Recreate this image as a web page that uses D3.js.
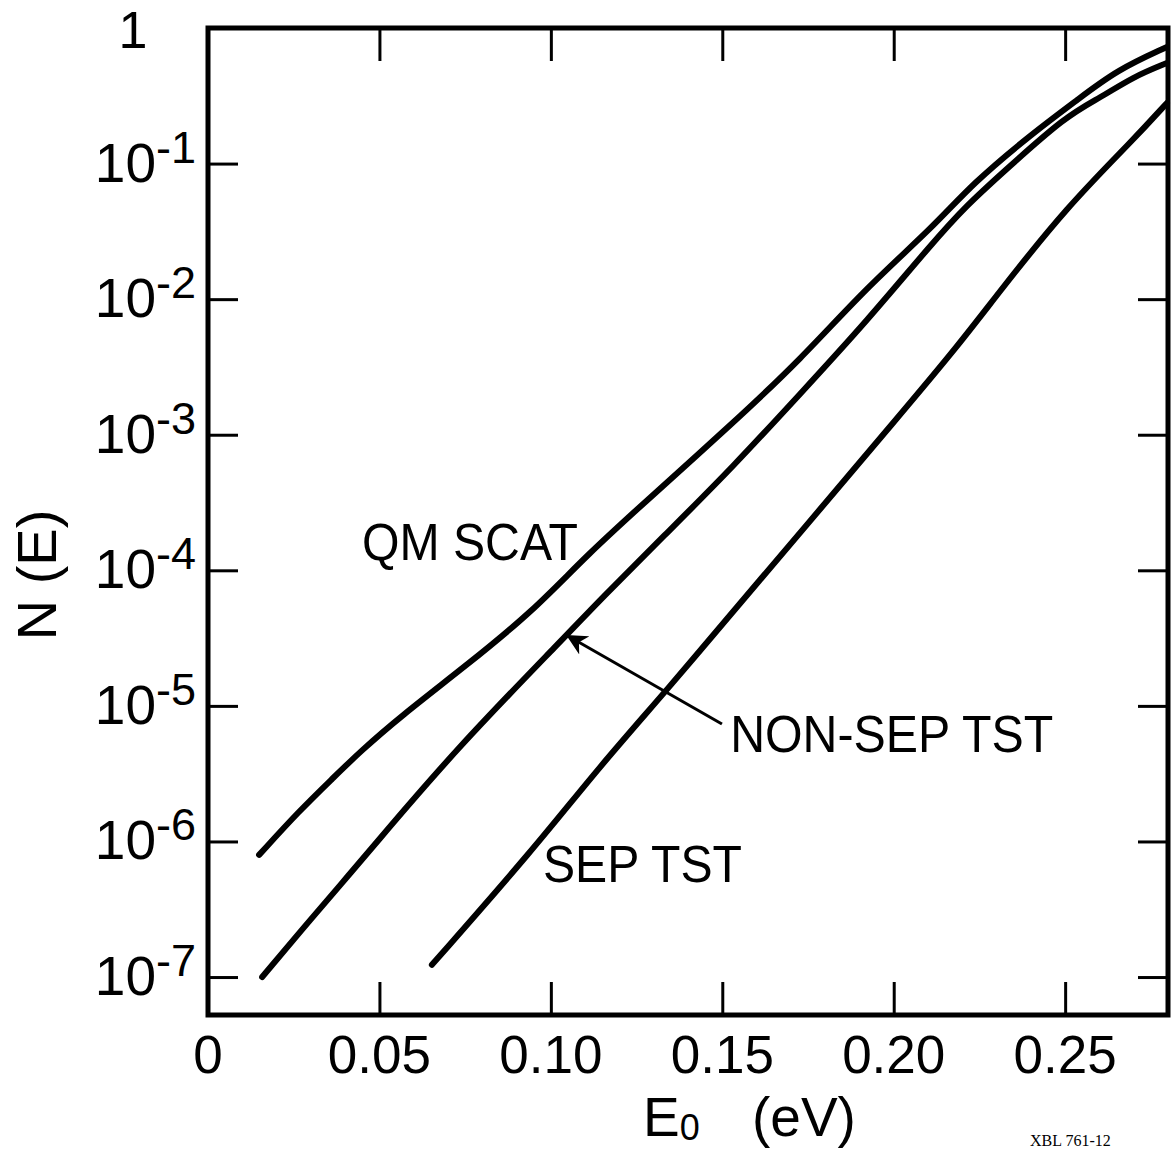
<!DOCTYPE html>
<html lang="en">
<head>
  <meta charset="utf-8">
  <title>N(E) vs E0</title>
  <script src="https://d3js.org/d3.v7.min.js"></script>
  <style>
    html, body { margin:0; padding:0; background:#fff; }
    svg { display:block; }
    text { font-family: "Liberation Sans", Arial, sans-serif; fill:#000; }
  </style>
</head>
<body>
<div id="chart"></div>
<script>
// ─── Data ───────────────────────────────────────────────────────────────────
const xTickValues = [0.05, 0.10, 0.15, 0.20, 0.25];
const xTickLabels = ["0", "0.05", "0.10", "0.15", "0.20", "0.25"];
const xLabelValues = [0, 0.05, 0.10, 0.15, 0.20, 0.25];
const yExponents  = [-1, -2, -3, -4, -5, -6, -7];

// [E0 (eV), N(E)]
const qmScat = [
  [0.0149, 7.96e-7], [0.0268, 1.70e-6], [0.0365, 2.94e-6], [0.0443, 4.58e-6],
  [0.0560, 8.30e-6], [0.0755, 2.00e-5], [0.0948, 5.00e-5], [0.1105, 1.30e-4],
  [0.1298, 3.60e-4], [0.1531, 1.22e-3], [0.1727, 3.56e-3], [0.1922, 1.23e-2],
  [0.2115, 3.40e-2], [0.2231, 7.19e-2], [0.2406, 0.168], [0.2535, 0.294],
  [0.2651, 0.490], [0.2797, 0.724]
];
const nonSepTst = [
  [0.0158, 1.00e-7], [0.0268, 2.15e-7], [0.0394, 5.04e-7], [0.0473, 8.67e-7],
  [0.0726, 4.90e-6], [0.1047, 3.34e-5], [0.1143, 6.05e-5], [0.1339, 1.89e-4],
  [0.1531, 5.79e-4], [0.1727, 2.00e-3], [0.1922, 6.90e-3], [0.2115, 2.64e-2],
  [0.2214, 4.95e-2], [0.2310, 8.24e-2], [0.2505, 0.228], [0.2602, 0.305],
  [0.2698, 0.436], [0.2797, 0.552]
];
const sepTst = [
  [0.0653, 1.23e-7], [0.0948, 8.67e-7], [0.1143, 3.60e-6], [0.1339, 1.31e-5],
  [0.1560, 6.05e-5], [0.1727, 1.89e-4], [0.2018, 1.40e-3], [0.2185, 4.45e-3],
  [0.2310, 1.15e-2], [0.2505, 4.79e-2], [0.2698, 0.149], [0.2797, 0.280]
];

// labels anchored in data units
const curveLabels = [
  { text: "QM SCAT",     e: 0.0449, n: 1.19e-4, len: 216 },
  { text: "NON-SEP TST", e: 0.1523, n: 4.58e-6, len: 323 },
  { text: "SEP TST",     e: 0.0977, n: 5.04e-7, len: 199 }
];
const arrowFrom = [0.1499, 7.36e-6];
const arrowTo   = [0.1050, 3.28e-5];

// ─── Layout ─────────────────────────────────────────────────────────────────
const W = 1171, H = 1152;
const margin = { top: 28, right: 3, bottom: 137, left: 208 };
const w = W - margin.left - margin.right;
const h = H - margin.top - margin.bottom;

const svg = d3.select("#chart").append("svg")
  .attr("width", W).attr("height", H);
const g = svg.append("g")
  .attr("transform", `translate(${margin.left},${margin.top})`);

const x = d3.scaleLinear().domain([0, 0.28]).range([0, w]);
const y = d3.scaleLog().domain([Math.pow(10, -7.28), 1]).range([h, 0]);

// ticks on all four sides, pointing inward
const tickStyle = sel => {
  sel.select(".domain").remove();
  sel.selectAll("line").attr("stroke", "#000").attr("stroke-width", 3);
};
g.append("g").attr("transform", `translate(0,${h})`)
  .call(d3.axisBottom(x).tickValues(xTickValues).tickSize(-33).tickFormat(""))
  .call(tickStyle);
g.append("g")
  .call(d3.axisTop(x).tickValues(xTickValues).tickSize(-33).tickFormat(""))
  .call(tickStyle);
const yTickVals = yExponents.map(p => Math.pow(10, p));
g.append("g")
  .call(d3.axisLeft(y).tickValues(yTickVals).tickSize(-30).tickFormat(""))
  .call(tickStyle);
g.append("g").attr("transform", `translate(${w},0)`)
  .call(d3.axisRight(y).tickValues(yTickVals).tickSize(-30).tickFormat(""))
  .call(tickStyle);

// frame
g.append("rect")
  .attr("x", 0).attr("y", 0).attr("width", w).attr("height", h)
  .attr("fill", "none").attr("stroke", "#000").attr("stroke-width", 5);

// x tick labels
g.selectAll(".xlab").data(xLabelValues).enter().append("text")
  .attr("x", d => x(d)).attr("y", h + 58)
  .attr("text-anchor", "middle").style("font-size", "53px")
  .text((d, i) => xTickLabels[i]);

// y tick labels: 10^p
yExponents.forEach(p => {
  const t = g.append("text")
    .attr("x", -12).attr("y", y(Math.pow(10, p)) + 18)
    .attr("text-anchor", "end").style("font-size", "55px");
  t.append("tspan").text("10");
  t.append("tspan").attr("dy", -19).style("font-size", "45px").text("-" + (-p));
});
g.append("text")
  .attr("x", -75).attr("y", y(1) + 20)
  .attr("text-anchor", "middle").style("font-size", "52px").text("1");

// axis titles
const xt = svg.append("text")
  .attr("x", 643).attr("y", 1136).style("font-size", "55px");
xt.append("tspan").text("E");
xt.append("tspan").attr("dy", 4).style("font-size", "36px").text("0");
xt.append("tspan").attr("x", 752).attr("dy", -4).text("(eV)");

svg.append("text")
  .attr("transform", "translate(56,575) rotate(-90)")
  .attr("text-anchor", "middle").style("font-size", "56px")
  .text("N (E)");

svg.append("text")
  .attr("x", 1030).attr("y", 1146)
  .style("font-family", "'Liberation Serif', serif").style("font-size", "16px")
  .text("XBL 761-12");

// curves
const line = d3.line()
  .x(d => x(d[0])).y(d => y(d[1]))
  .curve(d3.curveBasis);
[qmScat, nonSepTst, sepTst].forEach(s => {
  g.append("path").datum(s)
    .attr("d", line)
    .attr("fill", "none").attr("stroke", "#000")
    .attr("stroke-width", 6).attr("stroke-linecap", "round");
});

// curve labels
curveLabels.forEach(l => {
  g.append("text")
    .attr("x", x(l.e)).attr("y", y(l.n))
    .attr("textLength", l.len).attr("lengthAdjust", "spacingAndGlyphs")
    .style("font-size", "52px")
    .text(l.text);
});

// arrow
svg.append("defs").append("marker")
  .attr("id", "head").attr("viewBox", "0 0 10 10")
  .attr("refX", 9).attr("refY", 5)
  .attr("markerWidth", 7).attr("markerHeight", 7)
  .attr("markerUnits", "strokeWidth")
  .attr("orient", "auto")
  .append("path").attr("d", "M0,0 L10,5 L0,10 L3,5 Z").attr("fill", "#000");
g.append("line")
  .attr("x1", x(arrowFrom[0])).attr("y1", y(arrowFrom[1]))
  .attr("x2", x(arrowTo[0])).attr("y2", y(arrowTo[1]))
  .attr("stroke", "#000").attr("stroke-width", 3)
  .attr("marker-end", "url(#head)");
</script>
</body>
</html>
